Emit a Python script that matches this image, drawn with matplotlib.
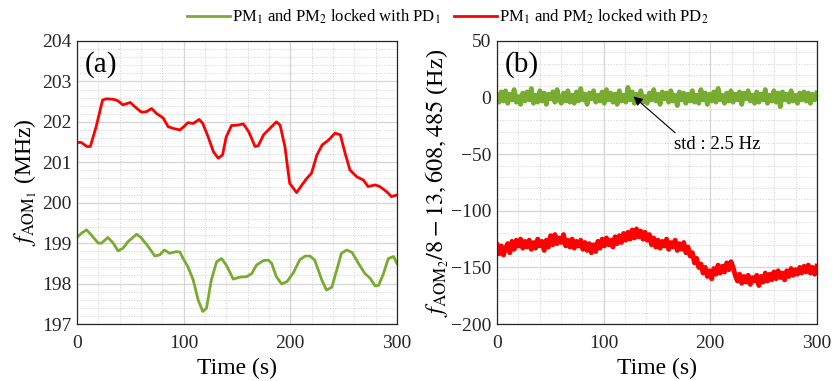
import numpy as np
import matplotlib
matplotlib.use("Agg")
import matplotlib.pyplot as plt
from matplotlib.ticker import MultipleLocator

plt.rcParams['font.family'] = ['Liberation Serif', 'DejaVu Serif']
plt.rcParams['mathtext.fontset'] = 'stix'

VERDE = '#77AC30'
ROJO = '#FF0000'

# panel (a): f_AOM1 en MHz
t_rojo_a = [0, 4, 9.4, 12.5, 18, 24, 27.6, 34, 38.5, 43, 50, 54, 60.4, 65, 70, 74.5, 81, 85.5, 90, 96.5,
            101, 104, 109, 114.6, 118, 123, 128, 132.5, 136.5, 140, 145, 151, 156, 161, 167, 170, 175, 181,
            187, 190.5, 195, 199.5, 206, 211, 215.5, 220, 225, 230, 236, 242, 247, 251.5, 256, 262.5,
            268.7, 273, 279.7, 284, 290.6, 295, 300]
f_rojo_a = [201.49, 201.49, 201.39, 201.39, 201.88, 202.54, 202.57, 202.56, 202.52, 202.42, 202.48, 202.38,
            202.24, 202.25, 202.33, 202.21, 202.09, 201.88, 201.84, 201.80, 201.90, 201.98, 201.96, 202.06,
            201.96, 201.63, 201.26, 201.10, 201.18, 201.63, 201.91, 201.92, 201.95, 201.76, 201.39, 201.41,
            201.68, 201.84, 202.00, 201.92, 201.39, 200.48, 200.25, 200.44, 200.60, 200.73, 201.18, 201.43,
            201.55, 201.72, 201.68, 201.22, 200.81, 200.64, 200.56, 200.40, 200.44, 200.40, 200.27, 200.15,
            200.19]

t_verde_a = [0, 4, 9, 13.5, 20, 23, 29, 34, 38.5, 43, 48, 56, 60, 67, 73, 77.7, 82, 87, 93, 96.5, 99.6,
             104, 109, 113.7, 118, 121.5, 126, 131, 135.6, 140, 146.6, 152.8, 159, 164, 168.5, 175, 179.5,
             182.6, 187, 192, 197, 203, 209, 214, 218.6, 223, 229.6, 234, 239, 243.7, 248, 253, 258, 264,
             270, 275, 279.7, 283, 287.5, 292, 297, 300]
f_verde_a = [199.14, 199.24, 199.33, 199.20, 199.00, 199.00, 199.14, 199.00, 198.81, 198.87, 199.04, 199.22,
             199.14, 198.91, 198.68, 198.71, 198.83, 198.75, 198.79, 198.78, 198.62, 198.42, 198.09, 197.59,
             197.31, 197.39, 198.09, 198.54, 198.62, 198.46, 198.11, 198.16, 198.17, 198.25, 198.46, 198.57,
             198.58, 198.50, 198.17, 197.99, 198.05, 198.27, 198.59, 198.68, 198.68, 198.58, 198.09, 197.84,
             197.91, 198.34, 198.75, 198.83, 198.77, 198.50, 198.25, 198.13, 197.94, 197.96, 198.25, 198.62,
             198.67, 198.50]

# panel (b): f_AOM2/8 - 13,608,485 en Hz, una muestra cada 2 s
f_verde_b = [2, -4, 5, -3, 6, -5, 3, -2, 7, -4, 1, -6, 4, -3, 5, -2, 8, -5, 2, -4, 6, -3, 4, -6, 3, -1, 5, -4, 7, -2,
             -5, 4, -3, 6, -4, 2, -5, 5, -3, 8, -2, 3, -6, 4, -1, 6, -4, 2, -3, 5, -5, 7, -2, 4, -4, 3, -6, 6, -3, 2,
             -4, 9, -2, 5, -5, 3, -3, 6, -4, 1, -5, 4, -2, 7, -3, 3, -6, 5, -1, 4, -4, 6, -3, 2, -7, 5, -2, 4, -5, 3,
             -3, 6, -4, 2, -5, 7, -2, 4, -6, 3, -3, 5, -4, 8, -2, 2, -5, 4, -3, 6, -4, 3, -2, 5, -6, 4, -1, 6, -3, 2,
             -5, 5, -4, 3, -2, 7, -5, 2, -3, 6, -4, 4, -8, 5, -2, 3, -4, 6, -3, 2, -5, 4, -2, 5, -3, 4, -5, 3, -2, 4]
f_rojo_b = [-130, -138, -131, -139, -133, -129, -137, -127, -134, -126, -131, -125, -133, -127, -132,
            -126, -134, -128, -133, -125, -131, -127, -135, -126, -132, -122, -130, -121, -129, -124,
            -128, -121, -131, -126, -132, -125, -133, -127, -131, -126, -134, -128, -135, -129, -137,
            -130, -136, -127, -133, -125, -131, -124, -130, -126, -132, -123, -129, -122, -128, -120,
            -126, -119, -125, -117, -124, -116, -123, -118, -125, -119, -126, -121, -130, -124, -132,
            -126, -133, -127, -131, -125, -134, -128, -132, -126, -135, -129, -134, -128, -137, -132,
            -140, -137, -146, -142, -150, -147, -155, -150, -158, -153, -160, -151, -156, -148, -155,
            -149, -154, -146, -152, -145, -150, -157, -162, -156, -164, -158, -163, -157, -165, -159,
            -162, -157, -166, -158, -163, -155, -162, -156, -161, -154, -160, -153, -159, -155, -161,
            -153, -158, -151, -157, -152, -156, -150, -155, -149, -154, -148, -155, -150, -156, -149]

leyenda = [r'PM$_1$ and PM$_2$ locked with PD$_1$', r'PM$_1$ and PM$_2$ locked with PD$_2$']


def preparar_ejes(ax, ylim, paso_mayor, paso_menor):
    ax.set_xlim(0, 300)
    ax.set_ylim(*ylim)
    ax.xaxis.set_major_locator(MultipleLocator(100))
    ax.xaxis.set_minor_locator(MultipleLocator(20))
    ax.yaxis.set_major_locator(MultipleLocator(paso_mayor))
    ax.yaxis.set_minor_locator(MultipleLocator(paso_menor))
    ax.grid(True, which='major', color='#d5d5d5', lw=0.9)
    ax.grid(True, which='minor', color='#cfcfcf', lw=0.7, ls=':')
    ax.set_axisbelow(True)
    ax.tick_params(which='both', direction='in', labelsize=14, colors='#262626', length=0)
    ax.tick_params(axis='x', pad=8)
    ax.tick_params(axis='y', pad=4)
    for s in ax.spines.values():
        s.set_color('#262626')
        s.set_linewidth(0.9)
    ax.set_xlabel('Time (s)', fontsize=17, labelpad=4)


fig = plt.figure(figsize=(8.33, 3.81), dpi=100)
ax1 = fig.add_axes([0.0924, 0.1496, 0.384, 0.7428])
ax2 = fig.add_axes([0.5966, 0.1496, 0.384, 0.7428])

l_verde, = ax1.plot(t_verde_a, f_verde_a, color=VERDE, lw=2)
l_rojo, = ax1.plot(t_rojo_a, f_rojo_a, color=ROJO, lw=2)
preparar_ejes(ax1, (197, 204), 1, 0.2)
ax1.set_ylabel(r'$f_{\mathrm{AOM}_1}$ (MHz)', fontsize=17, labelpad=2)
ax1.text(0.025, 0.965, '(a)', transform=ax1.transAxes, fontsize=21, va='top', ha='left')

ax2.plot(np.linspace(0, 300, len(f_verde_b)), f_verde_b, color=VERDE, lw=3.5)
ax2.plot(np.linspace(0, 300, len(f_rojo_b)), f_rojo_b, color=ROJO, lw=3.5)
preparar_ejes(ax2, (-200, 50), 50, 10)
ax2.set_ylabel(r'$f_{\mathrm{AOM}_2}/8-13,608,485$ (Hz)', fontsize=17.5, labelpad=0)
ax2.text(0.025, 0.965, '(b)', transform=ax2.transAxes, fontsize=21, va='top', ha='left')
ax2.annotate('std : 2.5 Hz', xy=(128, 1), xytext=(166, -41), fontsize=13.5, va='center', ha='left',
             arrowprops=dict(arrowstyle='-|>', color='k', lw=0.8, shrinkA=0, shrinkB=0,
                             relpos=(0.05, 1.0)))

fig.legend([l_verde, l_rojo], leyenda,
           loc='upper center', bbox_to_anchor=(0.537, 1.02), ncol=2, frameon=False, fontsize=12,
           handlelength=2.6, handletextpad=0.1, columnspacing=0.8)

fig.savefig('out.png', dpi=100)
